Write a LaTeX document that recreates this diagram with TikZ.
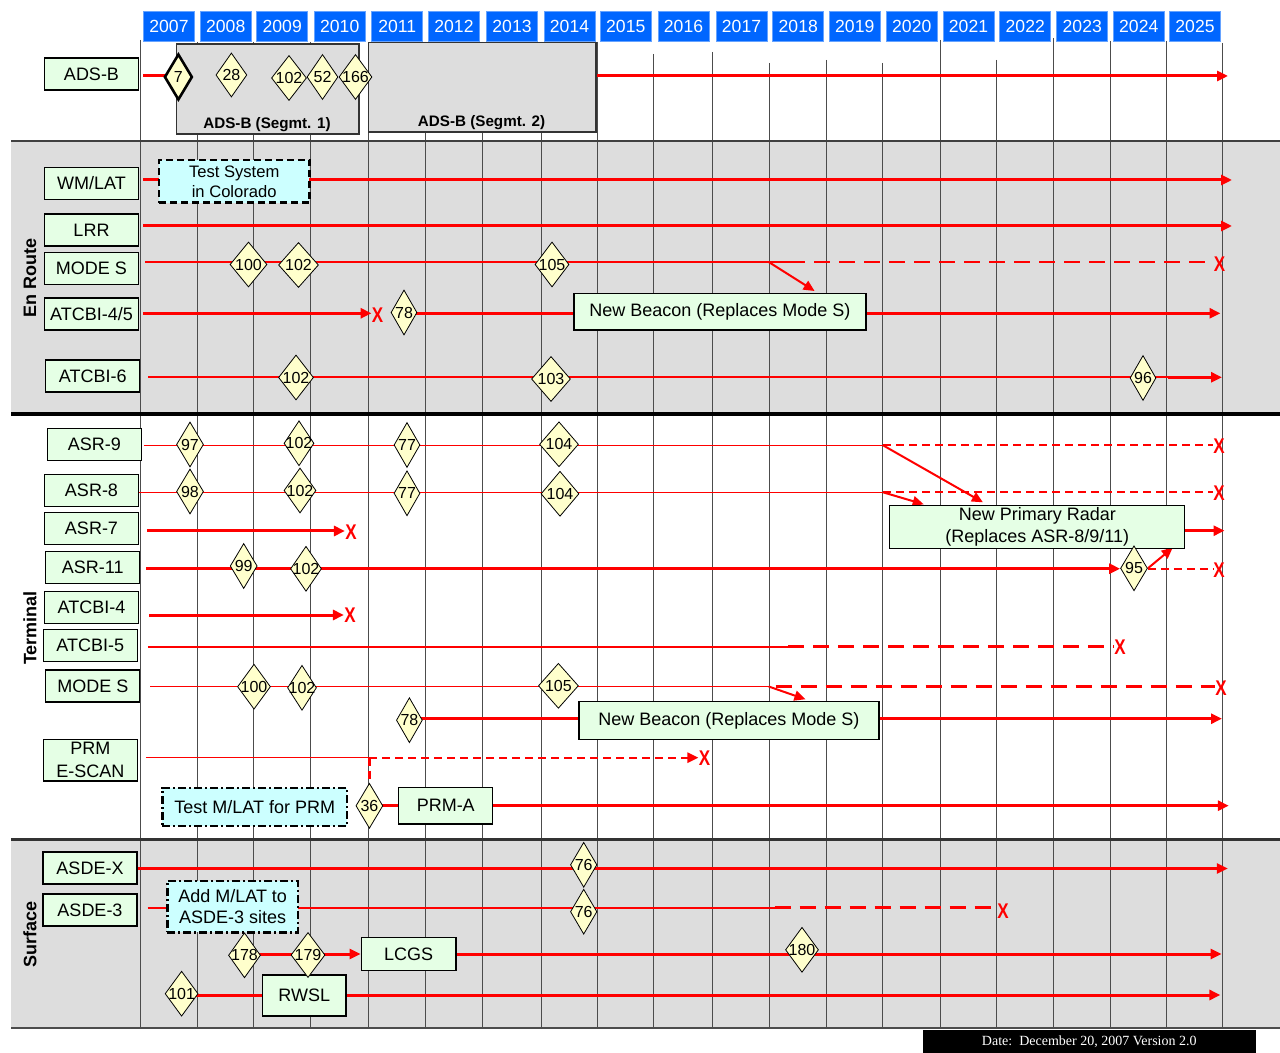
\documentclass[tikz,border=0pt]{standalone}
\usepackage{fontspec}
\setmainfont{Liberation Sans}
\newfontfamily\mydateserif{Liberation Serif}
\usetikzlibrary{shapes.geometric,arrows.meta}
\pgfdeclarelayer{back}
\pgfdeclarelayer{lines}
\pgfsetlayers{back,lines,main}
\definecolor{lblgreen}{RGB}{229,255,229}
\definecolor{diayel}{RGB}{255,255,204}
\definecolor{cyanbox}{RGB}{204,255,255}
\definecolor{secgray}{RGB}{221,221,221}
\definecolor{yrblue}{RGB}{0,102,255}
\newcommand\mylblf{\fontsize{9}{10.8}\selectfont}
\newcommand\mynumf{\fontsize{8}{9}\selectfont}
\newcommand\myyrf{\fontsize{8.8}{10}\selectfont}
\newcommand\mysecf{\fontsize{9}{10}\selectfont\bfseries}
\newcommand\mysegf{\fontsize{7.6}{9}\selectfont\bfseries}
\newcommand\myxmf{\fontsize{8.5}{9}\selectfont\bfseries}
\newcommand\myboxf{\fontsize{8.3}{10}\selectfont}
\begin{document}
\begin{tikzpicture}[x=0.5pt,y=-0.5pt,
  lbl/.style={draw=black, fill=lblgreen, line width=0.6pt, minimum width=47pt, minimum height=16pt, inner sep=1pt, font=\mylblf, align=center},
  seg/.style={draw=black!80, fill=secgray, line width=0.8pt, inner sep=0pt},
  cybox/.style={draw=black, fill=cyanbox, line width=1.2pt, inner sep=1pt, align=center, font=\myboxf},
  gbox/.style={draw=black, fill=lblgreen, line width=0.6pt, inner sep=1pt, align=center, font=\mylblf},
  dia/.style={shape=diamond, draw=black, fill=diayel, line width=0.4pt, inner sep=0pt, minimum height=22.5pt, font=\mynumf},
  yr/.style={fill=yrblue, draw=yrblue!60, line width=0.4pt, minimum width=25.5pt, minimum height=15pt, inner sep=0pt, text=white, font=\myyrf},
  xm/.style={text=red, font=\myxmf, inner sep=0pt},
  gridln/.style={draw=black!70, line width=0.5pt},
  thk/.style={draw=red, line width=1.5pt},
  med/.style={draw=red, line width=1pt},
  thn/.style={draw=red, line width=0.7pt},
  arr/.style={-{Triangle[length=5.5pt,width=5pt]}},
  longdash/.style={dash pattern=on 8pt off 4.5pt, line width=1.3pt},
  shortdash/.style={dash pattern=on 4pt off 2.5pt, line width=1.2pt}
]
\useasboundingbox (0,0) rectangle (1280,1053);

% ---------- background ----------
\begin{pgfonlayer}{back}
\fill[secgray] (11,141) rectangle (1280,414);
\fill[secgray] (11,840) rectangle (1280,1028);
\foreach \gx/\gy in {140/40, 197/42, 253.5/42, 310/42, 368.5/42, 425/42, 482/42, 541/42, 597/42, 653.5/54, 712.5/52, 769.5/63, 826/60, 882.5/63, 940/40, 996/60, 1053.5/38, 1110/41, 1166.5/41, 1222.5/43}
  \draw[gridln] (\gx,\gy) -- (\gx,1027);
\draw[black!75, line width=1.2pt] (11,141) -- (1280,141);
\draw[black, line width=2pt] (11,414.5) -- (1280,414.5);
\draw[black!80, line width=1.3pt] (11,839.5) -- (1280,839.5);
\draw[black!70, line width=1pt] (11,1028) -- (1280,1028);
\end{pgfonlayer}

% ---------- years ----------
\foreach \yy/\xa/\xb in {2007/140/197, 2008/197/253.5, 2009/253.5/310, 2010/310/368.5, 2011/368.5/425, 2012/425/482, 2013/482/541, 2014/541/597, 2015/597/653.5, 2016/653.5/712.5, 2017/712.5/769.5, 2018/769.5/826, 2019/826/882.5, 2020/882.5/940, 2021/940/996, 2022/996/1053.5, 2023/1053.5/1110, 2024/1110/1166.5, 2025/1166.5/1222.5}
  \node[yr] (y\yy) at ({(\xa+\xb)/2+0.5},26.5) {\yy};

% ---------- section labels ----------
\node[font=\mysecf, rotate=90] (secER) at (30,278) {En Route};
\node[font=\mysecf, rotate=90] (secTE) at (30,628) {Terminal};
\node[font=\mysecf, rotate=90] (secSU) at (30,934) {Surface};

% ---------- label boxes ----------
\node[lbl] (adsb) at (91.5,74) {ADS-B};
\node[lbl] (wmlat) at (91.5,183.3) {WM/LAT};
\node[lbl] (lrr) at (91.5,230) {LRR};
\node[lbl] (mse) at (91.5,268.5) {MODE S};
\node[lbl] (a45) at (91.5,314) {ATCBI-4/5};
\node[lbl] (a6) at (92.8,376) {ATCBI-6};
\node[lbl] (asr9) at (94.3,444.7) {ASR-9};
\node[lbl] (asr8) at (91.5,490.3) {ASR-8};
\node[lbl] (asr7) at (91.5,528.8) {ASR-7};
\node[lbl] (asr11) at (92.8,567.3) {ASR-11};
\node[lbl] (atc4) at (91.5,607.5) {ATCBI-4};
\node[lbl] (atc5) at (90.3,645.3) {ATCBI-5};
\node[lbl] (mst) at (92.8,686) {MODE S};
\node[lbl, minimum height=20.8pt, font=\fontsize{9}{11.5}\selectfont] (prm) at (90.3,760.2) {PRM\\E-SCAN};
\node[lbl] (asdex) at (90,868) {ASDE-X};
\node[lbl] (asde3) at (90,910) {ASDE-3};

% ---------- ADS-B segments ----------
\node[seg, minimum width=91.35pt, minimum height=44.85pt] (seg1) at (267.65,89.15) {};
\node[seg, minimum width=113.7pt, minimum height=44.8pt] (seg2) at (482.3,87.5) {};
\node[font=\mysegf] (seg1t) at (267,125) {ADS-B (Segmt. 1)};
\node[font=\mysegf] (seg2t) at (481.6,123) {ADS-B (Segmt. 2)};

% ---------- other boxes ----------
\node[cybox, dash pattern=on 3.5pt off 2pt, minimum width=75.2pt, minimum height=21.35pt] (testsys) at (234.2,181.35) {Test System\\in Colorado};
\node[gbox, minimum width=146pt, minimum height=18.35pt] (nb1) at (719.9,311.7) {New Beacon (Replaces Mode S)};
\node[gbox, minimum width=147.5pt, minimum height=20.3pt, font=\fontsize{9}{10.8}\selectfont] (npr) at (1037.3,527) {New Primary Radar\\(Replaces ASR-8/9/11)};
\node[gbox, minimum width=150pt, minimum height=18.8pt] (nb2) at (728.9,720.5) {New Beacon (Replaces Mode S)};
\node[cybox, font=\mylblf, dash pattern=on 4pt off 1.5pt on 1pt off 1.5pt, minimum width=92.3pt, minimum height=19.15pt] (testmlat) at (254.7,806.9) {Test M/LAT for PRM};
\node[gbox, minimum width=47pt, minimum height=18.35pt] (prma) at (445.75,805.65) {PRM-A};
\node[cybox, font=\fontsize{9}{10.5}\selectfont, dash pattern=on 4pt off 1.5pt on 1pt off 1.5pt, minimum width=65.35pt, minimum height=25.8pt] (addmlat) at (232.65,906.5) {Add M/LAT to\\ASDE-3 sites};
\node[gbox, minimum width=47.4pt, minimum height=16.3pt] (lcgs) at (408.6,954) {LCGS};
\node[gbox, minimum width=41.8pt, minimum height=20.5pt] (rwsl) at (304.2,995.5) {RWSL};

% ---------- diamonds ----------
\node[dia, minimum width=14pt, minimum height=23pt, line width=1.3pt] (d7) at (178.4,77) {\makebox[0pt]{7}};
\node[dia, minimum width=15.5pt, minimum height=22pt] (d28) at (231.4,75) {\makebox[0pt]{28}};
\node[dia, minimum width=17.5pt] (d102a) at (289,78) {\makebox[0pt]{102}};
\node[dia, minimum width=15.5pt] (d52) at (322.5,77) {\makebox[0pt]{52}};
\node[dia, minimum width=16.5pt] (d166) at (355.5,77) {\makebox[0pt]{166}};

\node[dia, minimum width=18.5pt] (d100a) at (248.5,264.5) {\makebox[0pt]{100}};
\node[dia, minimum width=20pt] (d102b) at (298.5,265) {\makebox[0pt]{102}};
\node[dia, minimum width=17pt] (d105a) at (552,264.5) {\makebox[0pt]{105}};
\node[dia, minimum width=13pt] (d78a) at (404,312.5) {\makebox[0pt]{78}};
\node[dia, minimum width=17.5pt] (d102c) at (296,377.5) {\makebox[0pt]{102}};
\node[dia, minimum width=19.5pt] (d103) at (551,379) {\makebox[0pt]{103}};
\node[dia, minimum width=13pt] (d96) at (1143,378) {\makebox[0pt]{96}};

\node[dia, minimum width=13.5pt] (d97) at (190,444.5) {\makebox[0pt]{97}};
\node[dia, minimum width=15pt] (d102d) at (299,443.3) {\makebox[0pt]{102}};
\node[dia, minimum width=13pt] (d77a) at (407,445) {\makebox[0pt]{77}};
\node[dia, minimum width=19.5pt] (d104a) at (559,444.3) {\makebox[0pt]{104}};
\node[dia, minimum width=13.5pt] (d98) at (190,491.5) {\makebox[0pt]{98}};
\node[dia, minimum width=16pt] (d102e) at (300,490.5) {\makebox[0pt]{102}};
\node[dia, minimum width=13pt] (d77b) at (407,493.3) {\makebox[0pt]{77}};
\node[dia, minimum width=19pt] (d104b) at (560,493.8) {\makebox[0pt]{104}};
\node[dia, minimum width=13.5pt] (d99) at (243.7,566) {\makebox[0pt]{99}};
\node[dia, minimum width=15.5pt] (d102f) at (306,568.8) {\makebox[0pt]{102}};
\node[dia, minimum width=13.5pt] (d95) at (1134,568.3) {\makebox[0pt]{95}};
\node[dia, minimum width=16.5pt] (d100b) at (254,686.7) {\makebox[0pt]{100}};
\node[dia, minimum width=14.5pt] (d102g) at (302,687.8) {\makebox[0pt]{102}};
\node[dia, minimum width=20pt] (d105b) at (558.4,685.8) {\makebox[0pt]{105}};
\node[dia, minimum width=13pt] (d78b) at (409.4,720.2) {\makebox[0pt]{78}};
\node[dia, minimum width=13.5pt] (d36) at (369.4,805.8) {\makebox[0pt]{36}};

\node[dia, minimum width=13.25pt] (d76a) at (583.7,864.8) {\makebox[0pt]{76}};
\node[dia, minimum width=13.25pt] (d76b) at (583.7,911.7) {\makebox[0pt]{76}};
\node[dia, minimum width=16pt] (d178) at (244.5,955.3) {\makebox[0pt]{178}};
\node[dia, minimum width=17pt] (d179) at (308,955) {\makebox[0pt]{179}};
\node[dia, minimum width=16.5pt] (d180) at (802,949.8) {\makebox[0pt]{180}};
\node[dia, minimum width=16.5pt] (d101) at (181.6,993.7) {\makebox[0pt]{101}};

% ---------- X marks ----------
\node[xm] (x1) at (1219.6,264) {\scalebox{1}[1.25]{X}};
\node[xm] (x2) at (377.6,315.5) {\scalebox{1}[1.25]{X}};
\node[xm] (x3) at (1219,446) {\scalebox{1}[1.25]{X}};
\node[xm] (x4) at (1219,493) {\scalebox{1}[1.25]{X}};
\node[xm] (x5) at (351,532.5) {\scalebox{1}[1.25]{X}};
\node[xm] (x6) at (1219,570) {\scalebox{1}[1.25]{X}};
\node[xm] (x7) at (350,615.5) {\scalebox{1}[1.25]{X}};
\node[xm] (x8) at (1120,647.5) {\scalebox{1}[1.25]{X}};
\node[xm] (x9) at (1221,688) {\scalebox{1}[1.25]{X}};
\node[xm] (x10) at (704.5,758.5) {\scalebox{1}[1.25]{X}};
\node[xm] (x11) at (1003,911.5) {\scalebox{1}[1.25]{X}};

% ---------- date ----------
\node[fill=black, text=white, minimum width=166.25pt, minimum height=11.5pt, inner sep=0pt, font=\mydateserif\fontsize{7}{8}\selectfont] (date) at (1089.25,1041.5) {Date:\ \ December 20, 2007 Version 2.0};

% ---------- coordinates ----------
\coordinate (yADS) at (0,76);   \coordinate (eADS) at (1228,76);
\coordinate (yWM) at (0,180);   \coordinate (eWM) at (1232,180);
\coordinate (yLRR) at (0,226);  \coordinate (eLRR) at (1232,226);
\coordinate (yMS) at (0,262);   \coordinate (bMS) at (768.7,262); \coordinate (cMS) at (789,262); \coordinate (aMS) at (814.6,291);
\coordinate (yA45) at (0,313.3); \coordinate (eA45) at (1220.5,313.3);
\coordinate (yA6) at (0,377.3); \coordinate (c96) at (1168,377.3); \coordinate (e96) at (1222,377.3);
\coordinate (y9) at (0,445.3);  \coordinate (j9) at (883,445.3); \coordinate (a9) at (982.9,502.3);
\coordinate (y8) at (0,492.3);  \coordinate (j8) at (883,492.3); \coordinate (a8) at (923.7,504.3);
\coordinate (y7) at (0,531);
\coordinate (y11) at (0,568.7); \coordinate (a11) at (1172.7,547.7);
\coordinate (eNP) at (1224.5,530.7);
\coordinate (y4) at (0,615);
\coordinate (y5) at (0,646.5);  \coordinate (j5) at (788,646.5);
\coordinate (yMT) at (0,686.5); \coordinate (bMT) at (768.7,686.5); \coordinate (cMT) at (775.6,686.5); \coordinate (aMT) at (805.4,699.3);
\coordinate (yNB2) at (0,718.7); \coordinate (eNB2) at (1222,718.7);
\coordinate (yP) at (0,757.7);  \coordinate (jP) at (369.4,757.7);
\coordinate (yPA) at (0,805.7); \coordinate (ePA) at (1228.8,805.7);
\coordinate (yX) at (0,868.5);  \coordinate (eX) at (1227.8,868.5);
\coordinate (y3) at (0,907.7);  \coordinate (j3) at (774.7,907.7);
\coordinate (yLC) at (0,954);   \coordinate (eLC) at (1221.6,954);
\coordinate (yRW) at (0,995);   \coordinate (eRW) at (1220.4,995);

% ---------- connectors ----------
\begin{pgfonlayer}{lines}
\draw[thk,arr,shorten <=2pt] (adsb.east|-yADS) -- (eADS);
\draw[thk,arr,shorten <=2pt] (wmlat.east|-yWM) -- (eWM);
\draw[thk,arr,shorten <=2pt] (lrr.east|-yLRR) -- (eLRR);
% MODE S en route
\draw[thn,shorten <=3pt] (mse.east|-yMS) -- (cMS);
\draw[med,arr] (bMS) -- (aMS);
\draw[thk,longdash] (cMS) -- (x1.west|-yMS);
% ATCBI-4/5
\draw[thk,arr,shorten <=2pt] (a45.east|-yA45) -- (x2.west|-yA45);
\draw[thk] (d78a|-yA45) -- (nb1.west|-yA45);
\draw[thk,arr] (nb1.east|-yA45) -- (eA45);
% ATCBI-6
\draw[med,shorten <=4pt] (a6.east|-yA6) -- (c96);
\draw[thk,arr] (c96) -- (e96);
% ASR-9
\draw[thn,shorten <=1pt] (asr9.east|-y9) -- (j9);
\draw[thk,shortdash] (j9) -- (x3.west|-y9);
\draw[med,arr] (j9) -- (a9);
% ASR-8
\draw[thn] (asr8.east|-y8) -- (j8);
\draw[thk,shortdash] (j8) -- (x4.west|-y8);
\draw[med,arr] (j8) -- (a8);
% ASR-7
\draw[thk,arr,shorten <=4pt] (asr7.east|-y7) -- (x5.west|-y7);
% ASR-11
\draw[thk,arr,shorten <=3pt] (asr11.east|-y11) -- (d95.west|-y11);
\draw[thk,shortdash] (d95.east|-y11) -- (x6.west|-y11);
\draw[med,arr] (d95.east) -- (a11);
\draw[thk,arr] (npr.east|-eNP) -- (eNP);
% ATCBI-4
\draw[thk,arr,shorten <=5pt] (atc4.east|-y4) -- (x7.west|-y4);
% ATCBI-5
\draw[med,shorten <=5pt] (atc5.east|-y5) -- (j5);
\draw[thk,longdash] (j5) -- (x8.west|-y5);
% MODE S terminal
\draw[thn,shorten <=5pt] (mst.east|-yMT) -- (bMT);
\draw[thk,longdash] (cMT) -- (x9.west|-yMT);
\draw[med,arr] (bMT) -- (aMT);
\draw[thk] (d78b|-yNB2) -- (nb2.west|-yNB2);
\draw[thk,arr] (nb2.east|-yNB2) -- (eNB2);
% PRM
\draw[thn,shorten <=4pt] (prm.east|-yP) -- (jP);
\draw[thk,shortdash,arr] (jP) -- (x10.west|-yP);
\draw[med,shortdash] (jP) -- (d36.north);
\draw[thk] (d36|-yPA) -- (prma.west|-yPA);
\draw[thk,arr] (prma.east|-yPA) -- (ePA);
% Surface
\draw[thk,arr] (asdex.east|-yX) -- (eX);
\draw[med,shorten <=5pt] (asde3.east|-y3) -- (j3);
\draw[thk,longdash] (j3) -- (x11.west|-y3);
\draw[thk] (d178|-yLC) -- (d179|-yLC);
\draw[thk,arr] (d179|-yLC) -- (lcgs.west|-yLC);
\draw[thk,arr] (lcgs.east|-yLC) -- (eLC);
\draw[thk] (d101|-yRW) -- (rwsl.west|-yRW);
\draw[thk,arr] (rwsl.east|-yRW) -- (eRW);
\end{pgfonlayer}
\end{tikzpicture}
\end{document}
